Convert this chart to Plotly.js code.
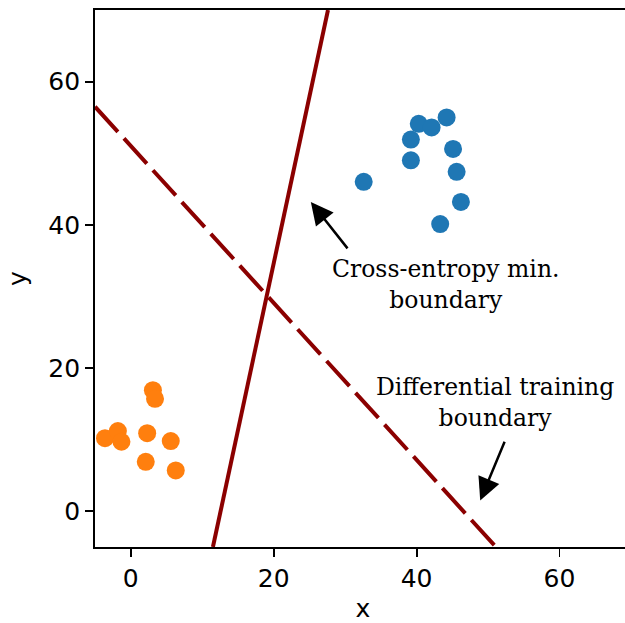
<!DOCTYPE html>
<html>
<head>
<meta charset="utf-8">
<script src="https://cdn.plot.ly/plotly-3.0.1.min.js"></script>
<style>
html, body { margin: 0; padding: 0; overflow: hidden; background: #fff; }
#chart { width: 640px; height: 623px; }
</style>
</head>
<body>
<div id="chart"></div>
<script>
// Class A (blue) points
const blueX = [32.6, 39.2, 39.2, 40.3, 42.1, 44.2, 45.1, 45.6, 46.2, 43.3];
const blueY = [46.0, 49.0, 51.9, 54.1, 53.6, 55.0, 50.6, 47.4, 43.2, 40.1];
// Class B (orange) points
const orangeX = [3.1, 3.4, -3.6, -1.8, -1.3, 2.3, 5.6, 2.1, 6.3];
const orangeY = [16.9, 15.7, 10.2, 11.2, 9.7, 10.9, 9.8, 6.9, 5.7];
// Cross-entropy minimisation boundary (solid)
const ceX = [11.5, 27.6];
const ceY = [-5, 70];
// Differential training boundary (dashed)
const dtX = [-5, 51.1];
const dtY = [56.5, -5];
// Annotations
const labels = ["Cross-entropy min.<br>boundary", "Differential training<br>boundary"];
const labelX = [44.0, 51.0];
const labelY = [31.6, 15.2];
const arrowTipX = [25.2, 48.9];
const arrowTipY = [43.2, 1.5];
const arrowTailX = [30.5, 52.4];
const arrowTailY = [36.5, 9.9];
const xTicks = [0, 20, 40, 60];
const yTicks = [0, 20, 40, 60];

const traces = [
  { x: blueX, y: blueY, mode: 'markers', type: 'scatter',
    marker: { color: '#1f77b4', size: 18 }, showlegend: false, hoverinfo: 'skip' },
  { x: orangeX, y: orangeY, mode: 'markers', type: 'scatter',
    marker: { color: '#ff7f0e', size: 18 }, showlegend: false, hoverinfo: 'skip' },
  { x: ceX, y: ceY, mode: 'lines', type: 'scatter',
    line: { color: '#8b0000', width: 4 }, showlegend: false, hoverinfo: 'skip' },
  { x: dtX, y: dtY, mode: 'lines', type: 'scatter',
    line: { color: '#8b0000', width: 4, dash: '34px,9px' }, showlegend: false, hoverinfo: 'skip' }
];

const serif = 'DejaVu Serif, serif';
const annotations = [];
for (let i = 0; i < labels.length; i++) {
  annotations.push({
    x: labelX[i], y: labelY[i], xref: 'x', yref: 'y',
    text: labels[i], showarrow: false, align: 'center',
    font: { family: serif, size: 23.5, color: '#000' }
  });
  annotations.push({
    x: arrowTipX[i], y: arrowTipY[i], xref: 'x', yref: 'y',
    ax: arrowTailX[i], ay: arrowTailY[i], axref: 'x', ayref: 'y',
    text: '', showarrow: true, arrowhead: 2, arrowsize: 1.8, arrowwidth: 2.5,
    arrowcolor: '#000', standoff: 0, startstandoff: 0
  });
}

const axisCommon = {
  showgrid: false, zeroline: false, showline: true, mirror: true,
  linecolor: '#000', linewidth: 1.9, ticks: 'outside', ticklen: 8,
  tickwidth: 1.9, tickcolor: '#000',
  tickfont: { family: 'DejaVu Sans', size: 25, color: '#000' }
};

const layout = {
  width: 640, height: 623,
  margin: { l: 95, r: 9, t: 10, b: 76 },
  paper_bgcolor: '#fff', plot_bgcolor: '#fff',
  xaxis: Object.assign({}, axisCommon, {
    range: [-5, 70], tickmode: 'array', tickvals: xTicks, ticktext: xTicks.map(String),
    title: { text: 'x', font: { family: 'DejaVu Sans', size: 25, color: '#000' }, standoff: 15 }
  }),
  yaxis: Object.assign({}, axisCommon, {
    range: [-5, 70], tickmode: 'array', tickvals: yTicks, ticktext: yTicks.map(String),
    title: { text: 'y', font: { family: 'DejaVu Sans', size: 25, color: '#000' }, standoff: 14 }
  }),
  annotations: annotations
};

Plotly.newPlot('chart', traces, layout, { displayModeBar: false, staticPlot: true });
</script>
</body>
</html>
